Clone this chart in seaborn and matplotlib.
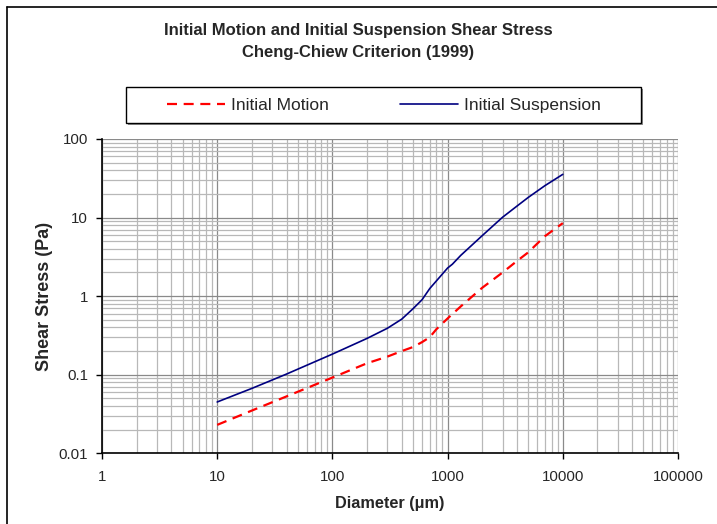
import numpy as np
import pandas as pd
import matplotlib
matplotlib.use("Agg")
import matplotlib.pyplot as plt
import seaborn as sns
from matplotlib.lines import Line2D
from matplotlib.patches import Rectangle

# Data
motion_d = [10, 20, 40, 100, 200, 300, 400, 500, 600, 700, 800, 1000, 1300, 2000, 3000, 4000, 5000, 7000, 10000]
motion_tau = [0.023, 0.035, 0.053, 0.092, 0.14, 0.17, 0.20, 0.225, 0.26, 0.30, 0.38, 0.52, 0.74, 1.28, 2.0, 2.8, 3.6, 5.8, 8.5]

susp_d = [10, 20, 40, 100, 200, 300, 400, 500, 600, 700, 1000, 1100, 1300, 2000, 3000, 4000, 5000, 7000, 10000]
susp_tau = [0.045, 0.067, 0.102, 0.183, 0.29, 0.39, 0.51, 0.69, 0.90, 1.25, 2.28, 2.55, 3.3, 5.9, 10.1, 14.0, 18.0, 25.5, 35.5]

x_ticks = [1, 10, 100, 1000, 10000, 100000]
x_labels = ["1", "10", "100", "1000", "10000", "100000"]
y_ticks = [0.01, 0.1, 1, 10, 100]
y_labels = ["0.01", "0.1", "1", "10", "100"]

sns.set_theme(style="white")
plt.rcParams['font.family'] = ['Liberation Sans', 'DejaVu Sans']

df = pd.concat([
    pd.DataFrame({"Diameter": motion_d, "Tau": motion_tau, "Series": "Initial Motion"}),
    pd.DataFrame({"Diameter": susp_d, "Tau": susp_tau, "Series": "Initial Suspension"}),
])

W, H = 717, 524
fig = plt.figure(figsize=(W/100, H/100), dpi=100)
ax = fig.add_axes([102/W, 1-453.3/H, (678-102)/W, (453.3-139)/H])

DASH = (0, (4.5, 3))
sub_m = df[df.Series == "Initial Motion"]
sub_s = df[df.Series == "Initial Suspension"]
sns.lineplot(data=sub_m, x="Diameter", y="Tau", ax=ax, color="#ff0000", lw=1.6,
             linestyle=DASH, legend=False)
sns.lineplot(data=sub_s, x="Diameter", y="Tau", ax=ax, color="#000080", lw=1.2,
             legend=False)

ax.set_xscale("log")
ax.set_yscale("log")
ax.set_xlim(1, 100000)
ax.set_ylim(0.01, 100)
ax.set_xticks(x_ticks)
ax.set_xticklabels(x_labels)
ax.set_yticks(y_ticks)
ax.set_yticklabels(y_labels)
ax.minorticks_on()
ax.tick_params(which="minor", length=0)
ax.tick_params(which="major", length=4, width=1, color="black", direction="out",
               labelsize=10.8, pad=6)
ax.tick_params(axis="x", which="major", pad=8)
ax.xaxis.set_ticks_position("bottom")
ax.yaxis.set_ticks_position("left")
ax.grid(True, which="major", color="#8a8a8a", lw=0.9)
ax.grid(True, which="minor", color="#b8b8b8", lw=0.9)
ax.set_axisbelow(True)
for s in ["top", "right"]:
    ax.spines[s].set_visible(False)
for s in ["left", "bottom"]:
    ax.spines[s].set_color("black")
    ax.spines[s].set_linewidth(1.2)

ax.set_xlabel("Diameter (\u03bcm)", fontsize=11.7, fontweight="bold", labelpad=9)
ax.set_ylabel("Shear Stress (Pa)", fontsize=13, fontweight="bold", labelpad=4)

fig.text(358/W, 1-31/H, "Initial Motion and Initial Suspension Shear Stress",
         ha="center", va="center", fontsize=12, fontweight="bold")
fig.text(358/W, 1-52/H, "Cheng-Chiew Criterion (1999)",
         ha="center", va="center", fontsize=12, fontweight="bold")

# legend box (Excel style, with a slight shadow)
fig.add_artist(Rectangle((128/W, 1-125/H), (641-126)/W, (123-87)/H, transform=fig.transFigure,
                         facecolor="#909090", edgecolor="none", zorder=4))
fig.add_artist(Rectangle((126/W, 1-123/H), (641-126)/W, (123-87)/H, transform=fig.transFigure,
                         facecolor="white", edgecolor="black", lw=1.0, zorder=5))
handles = [Line2D([], [], color="#ff0000", lw=1.6, linestyle=DASH),
           Line2D([], [], color="#000080", lw=1.2)]
leg = fig.legend(handles, ["Initial Motion", "Initial Suspension"], ncol=2,
                 loc="center", bbox_to_anchor=(384/W, 1-105/H),
                 frameon=False, fontsize=12.5,
                 handlelength=3.35, handletextpad=0.35, columnspacing=4.1,
                 borderpad=0, borderaxespad=0)
leg.set_zorder(6)

# chart-area border (left and top visible in the reference)
fig.add_artist(Line2D([7/W, 7/W], [0, 1-7/H], color="black", lw=1.2, transform=fig.transFigure))
fig.add_artist(Line2D([7/W, 1], [1-7/H, 1-7/H], color="black", lw=1.2, transform=fig.transFigure))

fig.savefig("out.png", dpi=100)
